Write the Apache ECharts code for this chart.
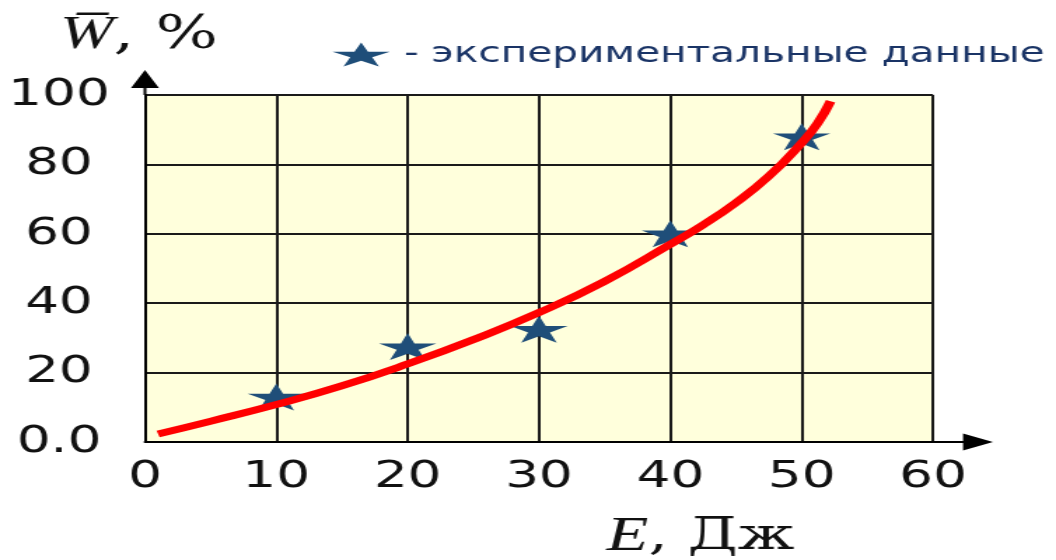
<!DOCTYPE html>
<html>
<head>
<meta charset="utf-8">
<script src="https://cdn.jsdelivr.net/npm/echarts@6/dist/echarts.min.js"></script>
<style>
  html, body { margin: 0; padding: 0; background: #fff; overflow: hidden; }
  #wrap { width: 1056px; height: 560px; overflow: hidden; }
  /* the drawing is laid out narrow and widened horizontally */
  #chart { width: 754px; height: 560px; transform: scaleX(1.40053); transform-origin: 0 0; }
</style>
</head>
<body>
<div id="wrap"><div id="chart"></div></div>
<script>
// Measured points (energy E, J  ->  mean W, %)
const expE = [10, 20, 30, 40, 50];
const expW = [13, 27.5, 32.5, 60, 88];

// Fitted curve, read along its length
const fitE = [1, 5, 10, 15, 20, 25, 30, 35, 40, 42.5, 45, 47.5, 50, 51.2, 52.2];
const fitW = [2.3, 6.0, 10.8, 16.2, 22.5, 29.5, 37.3, 46.3, 57, 62.6, 69, 76.6, 86.2, 91.8, 98.2];

// Tick labels
const xTicks = [0, 10, 20, 30, 40, 50, 60];
const xTickLabels = ['0', '10', '20', '30', '40', '50', '60'];
const yTicks = [0, 20, 40, 60, 80, 100];
const yTickLabels = ['0.0', '20', '40', '60', '80', '100'];

const legendName = 'экспериментальные данные';

const STAR = 'path://M50,0 L61.23,34.55 L97.55,34.55 L68.16,55.9 L79.39,90.45 L50,69.1 L20.61,90.45 L31.84,55.9 L2.45,34.55 L38.77,34.55 Z';
const X_ARROW = 'path://M8.5,0 L17,21.4 L9.5,21.4 L9.5,42.8 L7.5,42.8 L7.5,21.4 L0,21.4 Z';
const Y_ARROW = 'path://M10,0 L20,18 L11,18 L11,25 L9,25 L9,18 L0,18 Z';

const tickFont = { fontFamily: 'DejaVu Sans', fontSize: 38, color: '#111' };
const serif = (size, italic, family) => ({
  fontFamily: family || 'Liberation Serif', fontStyle: italic ? 'italic' : 'normal',
  fontWeight: 'normal', fontSize: size, color: '#111'
});

const chart = echarts.init(document.getElementById('chart'));
chart.setOption({
  animation: false,
  title: [
    {
      text: '{i|W\u0305}{n|, %}',
      left: 42.8, top: 12, padding: 0,
      textStyle: { fontWeight: 'normal', rich: { i: serif(46, true), n: serif(47, false, 'DejaVu Serif') } }
    },
    {
      text: '{i|E}{n|, Дж}',
      left: 433, top: 513, padding: 0,
      textStyle: { fontWeight: 'normal', rich: { i: serif(49, true), n: serif(44, false, 'DejaVu Serif') } }
    }
  ],
  legend: {
    data: [legendName],
    left: 237.4, top: 40, padding: 0,
    icon: STAR,
    symbolKeepAspect: false,
    itemWidth: 41, itemHeight: 24,
    formatter: (n) => '- ' + n,
    textStyle: {
      fontFamily: 'DejaVu Sans', fontSize: 29, color: '#1A3466',
      padding: [11, 0, 0, 5]
    }
  },
  grid: {
    left: 103.5, right: 87.8, top: 95, bottom: 118,
    show: true, backgroundColor: '#FFFFDC', borderWidth: 0
  },
  xAxis: {
    type: 'value', min: 0, max: 60, interval: 10,
    axisLine: {
      lineStyle: { color: '#000', width: 2 },
      symbol: ['none', X_ARROW], symbolSize: [17, 42.8], symbolOffset: [0, 21.4]
    },
    axisTick: { show: false },
    axisLabel: {
      ...tickFont, margin: 16,
      formatter: (v) => xTickLabels[xTicks.indexOf(v)] ?? ''
    },
    splitLine: { show: true, lineStyle: { color: '#1a1a1a', width: 2 } }
  },
  yAxis: {
    type: 'value', min: 0, max: 100, interval: 20,
    axisLine: {
      show: true,
      lineStyle: { color: '#000', width: 2 },
      symbol: ['none', Y_ARROW], symbolSize: [20, 25], symbolOffset: [0, 12.5]
    },
    axisTick: { show: false },
    axisLabel: {
      ...tickFont, margin: 61.4, align: 'center',
      formatter: (v) => yTickLabels[yTicks.indexOf(v)] ?? ''
    },
    splitLine: { show: true, lineStyle: { color: '#1a1a1a', width: 2 } }
  },
  series: [
    {
      name: legendName,
      type: 'scatter',
      symbol: STAR,
      symbolSize: [41, 27],
      itemStyle: { color: '#1F4E79', opacity: 1 },
      data: expE.map((e, i) => [e, expW[i]]),
      z: 2
    },
    {
      name: 'fit',
      type: 'line',
      smooth: true,
      showSymbol: false,
      lineStyle: { color: '#FF0000', width: 7 },
      data: fitE.map((e, i) => [e, fitW[i]]),
      z: 3
    }
  ]
});
</script>
</body>
</html>
